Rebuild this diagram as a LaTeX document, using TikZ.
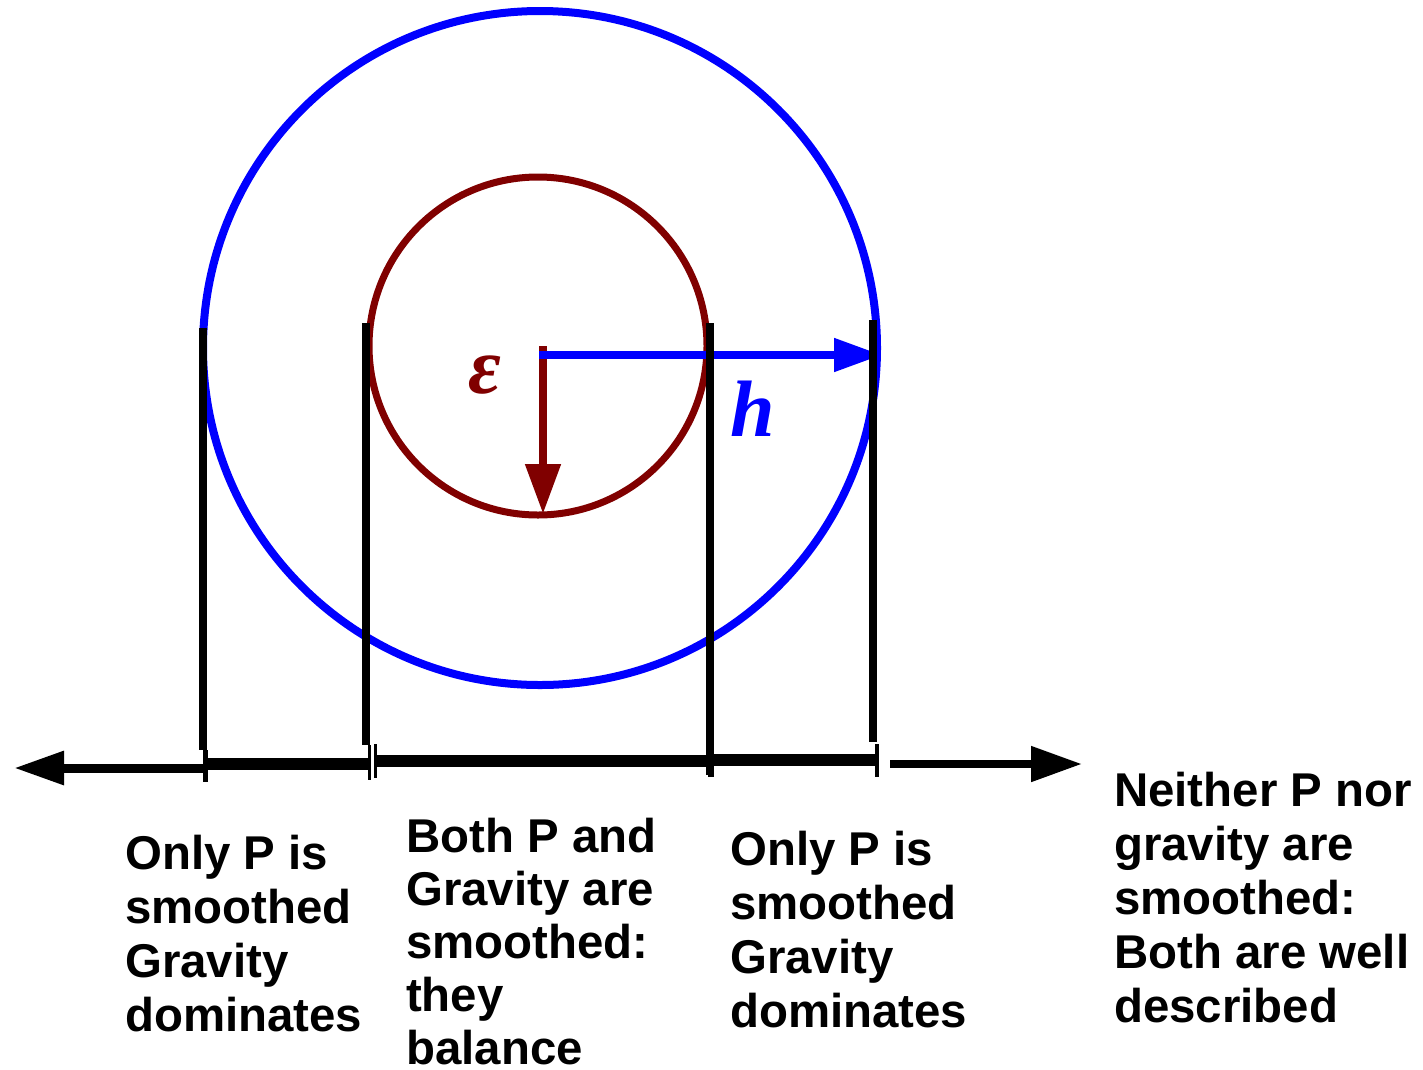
\documentclass[tikz,border=0pt]{standalone}
\usepackage{fontspec}
\setmainfont{Liberation Sans}
\newfontfamily\symserif{Liberation Serif}
\usetikzlibrary{arrows.meta}
\definecolor{dred}{RGB}{128,0,0}
\definecolor{pblue}{RGB}{0,0,255}
\tikzset{
  lbl/.style={anchor=north west,inner sep=0pt,align=left,font=\fontsize{47.4}{54}\selectfont\bfseries},
  vbar/.style={line width=7.5pt,black},
  seg/.style={line width=11.5pt,black},
  tick/.style={line width=3pt,black},
  sym/.style={inner sep=0pt}
}
\begin{document}
\begin{tikzpicture}[x=1pt,y=-1pt]
\path[use as bounding box] (0,0) rectangle (1423,1069);
\coordinate (bc) at (540,348);
\coordinate (rc) at (538,346);
\draw[pblue,line width=8pt] (bc) circle[radius=337];
\draw[dred,line width=7pt] (rc) circle[radius=169];
% radii arrows
\coordinate (e0) at (543,346);
\coordinate (e1) at (543,514);
\draw[dred,line width=8pt,-{Triangle[length=50pt,width=34pt]}] (e0) -- (e1);
\coordinate (h0) at (539,355);
\coordinate (h1) at (882,355);
\draw[pblue,line width=8pt,-{Triangle[length=48pt,width=32pt]}] (h0) -- (h1);
\node[sym,text=dred,font=\symserif\fontsize{80}{80}\selectfont\bfseries\itshape] (eps) at (485,375) {ε};
\node[sym,text=pblue,font=\symserif\fontsize{80}{80}\selectfont\bfseries\itshape] (hh) at (753,409) {h};
% vertical bars
\coordinate (v1t) at (203,328); \coordinate (v1b) at (203,750);
\coordinate (v2t) at (366,323); \coordinate (v2b) at (366,745);
\coordinate (v3t) at (710,323); \coordinate (v3b) at (710,775);
\coordinate (v4t) at (873,320); \coordinate (v4b) at (873,742);
\draw[vbar] (v1t) -- (v1b);
\draw[vbar] (v2t) -- (v2b);
\draw[vbar] (v3t) -- (v3b);
\draw[vbar] (v4t) -- (v4b);
% axis
\coordinate (la0) at (205,768); \coordinate (la1) at (14,768);
\draw[line width=9pt,-{Triangle[length=50pt,width=32pt]}] (la0) -- (la1);
\coordinate (s1a) at (205,764); \coordinate (s1b) at (370,764);
\coordinate (s2a) at (374,761); \coordinate (s2b) at (708,761);
\coordinate (s3a) at (712,760); \coordinate (s3b) at (877,760);
\draw[seg] (s1a) -- (s1b);
\draw[seg] (s2a) -- (s2b);
\draw[seg] (s3a) -- (s3b);
\coordinate (ra0) at (890,764); \coordinate (ra1) at (1082,764);
\draw[line width=8pt,-{Triangle[length=51pt,width=34pt]}] (ra0) -- (ra1);
% ticks
\coordinate (t1a) at (205,750); \coordinate (t1b) at (205,782);
\coordinate (t2a) at (369,745); \coordinate (t2b) at (369,780);
\coordinate (t3a) at (375,744); \coordinate (t3b) at (375,778);
\coordinate (t4a) at (711,744); \coordinate (t4b) at (711,777);
\coordinate (t5a) at (877,744); \coordinate (t5b) at (877,777);
\draw[line width=5pt] (t1a) -- (t1b);
\draw[tick] (t2a) -- (t2b);
\draw[tick] (t3a) -- (t3b);
\draw[line width=6pt] (t4a) -- (t4b);
\draw[line width=4pt] (t5a) -- (t5b);
% labels
\node[lbl] (L1) at (125,835) {Only P is\\smoothed\\Gravity\\dominates};
\node[lbl,font=\fontsize{47.4}{53}\selectfont\bfseries] (L2) at (406,818) {Both P and\\Gravity are\\smoothed:\\they\\balance};
\node[lbl] (L3) at (730,831) {Only P is\\smoothed\\Gravity\\dominates};
\node[lbl] (L4) at (1114,772) {Neither P nor\\gravity are\\smoothed:\\Both are well\\described};
\end{tikzpicture}
\end{document}
